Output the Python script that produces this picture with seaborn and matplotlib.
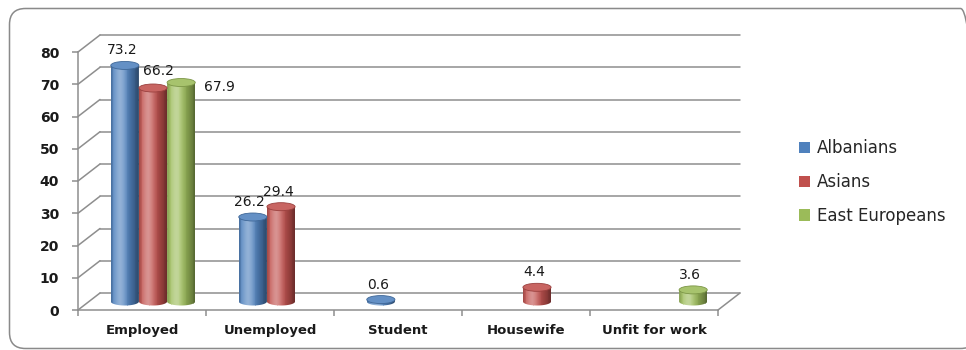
import numpy as np
import pandas as pd
import seaborn as sns
import matplotlib
matplotlib.use("Agg")
import matplotlib.pyplot as plt
from matplotlib.patches import Rectangle, Ellipse, FancyBboxPatch, Patch, PathPatch
from matplotlib.lines import Line2D
from matplotlib.path import Path
from matplotlib.transforms import ScaledTranslation, IdentityTransform
from matplotlib.colors import to_rgb

# ---- data -------------------------------------------------------------
categories = ["Employed", "Unemployed", "Student", "Housewife", "Unfit for work"]
groups = ["Albanians", "Asians", "East Europeans"]
albanians = [73.2, 26.2, 0.6, None, None]
asians = [66.2, 29.4, None, 4.4, None]
east_europeans = [67.9, None, None, None, 3.6]
y_ticks = [0, 10, 20, 30, 40, 50, 60, 70, 80]

# ---- style ------------------------------------------------------------
palette = {"Albanians": "#4f81bd", "Asians": "#c0504d", "East Europeans": "#9bbb59"}
frame_color = "#8e8e8e"
DEPTH = (22, 17)           # depth of the 3-D box, in pixels (right, up)
MID = (DEPTH[0] / 2, DEPTH[1] / 2)
CAP_PX = 8                 # height of the elliptical cylinder caps, pixels
LABEL_OFFSET = (-3, 15)
LABEL_NUDGE = {("Employed", "Asians"): (5, 17), ("Employed", "East Europeans"): (38, -4)}

sns.set_theme(style="white")
plt.rcParams["font.family"] = ["DejaVu Sans"]

rows = []
for grp, vals in zip(groups, [albanians, asians, east_europeans]):
    for cat, v in zip(categories, vals):
        if v is not None:
            rows.append({"status": cat, "group": grp, "pct": v})
df = pd.DataFrame(rows)

W, H, DPI = 966, 350, 100
fig = plt.figure(figsize=(W / DPI, H / DPI), dpi=DPI)
ax = fig.add_axes([78 / W, 40 / H, 640 / W, 258 / H])
ax.set_facecolor("none")

sns.barplot(data=df, x="status", y="pct", hue="group", order=categories,
            hue_order=groups, palette=palette, width=0.66, dodge=True,
            saturation=1, errorbar=None, legend=False, ax=ax)

ax.set_xlim(-0.5, len(categories) - 0.5)
ax.set_ylim(0, 80)
ax.set_xlabel("")
ax.set_ylabel("")


def shifted(dx, dy):
    return ax.transData + ScaledTranslation(dx / fig.dpi, dy / fig.dpi, fig.dpi_scale_trans)


back = shifted(*DEPTH)
mid = shifted(*MID)

# ---- 3-D frame: back wall, left wall and floor --------------------------
x_lo, x_hi = ax.get_xlim()
for v in y_ticks:
    ax.plot([x_lo, x_hi], [v, v], color=frame_color, lw=1.1, transform=back,
            clip_on=False, zorder=0.5)
    px, py = ax.transData.transform((x_lo, v))
    fig.add_artist(Line2D([px, px + DEPTH[0]], [py, py + DEPTH[1]],
                          color=frame_color, lw=1.1, transform=IdentityTransform(),
                          zorder=0.5))
px, py = ax.transData.transform((x_hi, 0))
fig.add_artist(Line2D([px, px + DEPTH[0]], [py, py + DEPTH[1]], color=frame_color,
                      lw=1.1, transform=IdentityTransform(), zorder=0.5))

for side in ["top", "right"]:
    ax.spines[side].set_visible(False)
for side in ["left", "bottom"]:
    ax.spines[side].set_color(frame_color)
    ax.spines[side].set_linewidth(1.1)

ax.set_yticks(y_ticks)
ax.set_yticklabels([str(t) for t in y_ticks])
ax.tick_params(axis="y", length=4.5, width=1.1, color=frame_color, pad=9,
               labelsize=10, left=True)
ax.set_xticks(range(len(categories)))
ax.set_xticklabels(categories)
ax.set_xticks(np.arange(-0.5, len(categories), 1.0), minor=True)
ax.tick_params(axis="x", which="major", length=0, pad=10, labelsize=9.5)
ax.tick_params(axis="x", which="minor", length=4.5, width=1.1, color=frame_color,
               bottom=True)
for lab in ax.get_xticklabels() + ax.get_yticklabels():
    lab.set_fontweight("bold")
    lab.set_color("#1a1a1a")

# ---- cylinder shading --------------------------------------------------
units_per_px = 80 / ax.get_window_extent().height
cap_h = CAP_PX * units_per_px


def shade(base, t):
    base = np.array(to_rgb(base))
    light = 0.38 * np.exp(-((t - 0.33) / 0.22) ** 2)
    dark = 0.45 * max(0.0, (t - 0.45) / 0.55) ** 1.4 + 0.18 * max(0.0, (0.12 - t) / 0.12)
    c = base + (1 - base) * light
    return np.clip(c * (1 - dark), 0, 1)


def tint(base, amt):
    base = np.array(to_rgb(base))
    if amt >= 0:
        return base + (1 - base) * amt
    return base * (1 + amt)


for gi, (grp, container) in enumerate(zip(groups, ax.containers)):
    base = palette[grp]
    for patch in container.patches:
        h = patch.get_height()
        if h is None or np.isnan(h) or h <= 0:
            patch.set_visible(False)
            continue
        x0, w = patch.get_x(), patch.get_width()
        xc = x0 + w / 2
        patch.set_transform(mid)
        patch.set_visible(False)

        # silhouette: body plus the lower half of the bottom ellipse
        th = np.linspace(np.pi, 2 * np.pi, 40)
        bx = xc + (w / 2) * np.cos(th)
        by = (cap_h / 2) * np.sin(th)
        verts = list(zip(bx, by)) + [(x0 + w, h), (x0, h), (bx[0], by[0])]
        codes = [Path.MOVETO] + [Path.LINETO] * (len(verts) - 2) + [Path.CLOSEPOLY]
        clip = PathPatch(Path(verts, codes), transform=mid, facecolor="none",
                         edgecolor="none")
        ax.add_patch(clip)

        n = 32
        for k in range(n):
            t = (k + 0.5) / n
            r = Rectangle((x0 + k * w / n, -cap_h), w / n * 1.05, h + cap_h,
                          facecolor=shade(base, t), edgecolor="none", lw=0,
                          transform=mid, zorder=3)
            ax.add_patch(r)
            r.set_clip_path(clip)

        ax.add_patch(Ellipse((xc, h), w, cap_h, facecolor=tint(base, 0.12),
                             edgecolor=tint(base, -0.2), lw=0.6, transform=mid,
                             zorder=3.2))

        cat = categories[int(round(xc))]
        dx, dy = LABEL_NUDGE.get((cat, grp), LABEL_OFFSET)
        ax.annotate(f"{h:.1f}", xy=(xc, h), xycoords=mid, xytext=(dx, dy),
                    textcoords="offset pixels", ha="center", va="center",
                    fontsize=10, color="#1a1a1a", zorder=5, annotation_clip=False)

# ---- legend ------------------------------------------------------------
handles = [Patch(facecolor=palette[g], edgecolor="none") for g in groups]
fig.legend(handles, groups, loc="center left", bbox_to_anchor=(799 / W, 1 - 182 / H),
           frameon=False, fontsize=12, handlelength=0.66, handleheight=0.66,
           handletextpad=0.42, labelspacing=0.95, borderpad=0, borderaxespad=0)

# ---- rounded outer frame ----------------------------------------------
fig.add_artist(FancyBboxPatch((9.5, 1.5), 967, 340, boxstyle="round,pad=0,rounding_size=16",
                              transform=IdentityTransform(), facecolor="none",
                              edgecolor="#8a8a8a", lw=1.1, zorder=0, clip_on=False))

fig.savefig("out.png", dpi=DPI)
